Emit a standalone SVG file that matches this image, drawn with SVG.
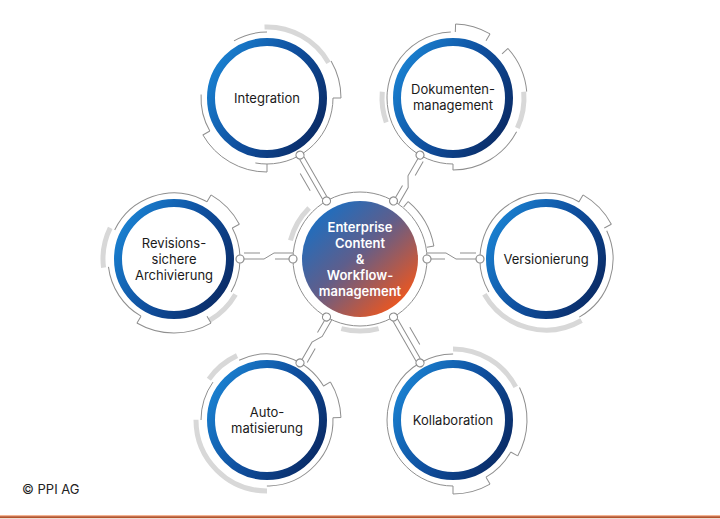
<svg xmlns="http://www.w3.org/2000/svg" width="720" height="519" viewBox="0 0 720 519">
<defs>
<linearGradient id="blue" x1="0" y1="0.2" x2="1" y2="0.8">
<stop offset="0" stop-color="#1a82d2"/>
<stop offset="0.5" stop-color="#0f4f9e"/>
<stop offset="1" stop-color="#0a2a64"/>
</linearGradient>
<linearGradient id="core" x1="0.12" y1="0.1" x2="0.88" y2="0.9">
<stop offset="0" stop-color="#1b6fc2"/>
<stop offset="0.45" stop-color="#5e5e8c"/>
<stop offset="1" stop-color="#f3561a"/>
</linearGradient>
<style>
.thin{fill:none;stroke:#8f8f8f;stroke-width:1}
.thick{fill:none;stroke:#d8d8d8;stroke-width:5}
.ring{fill:#fff;stroke:url(#blue);stroke-width:8}
.lbl{font-family:Inter,"Open Sans","Liberation Sans",sans-serif;font-size:13px;fill:#1a1a1a;text-anchor:middle}
.ctr{font-family:Inter,"Open Sans","Liberation Sans",sans-serif;font-size:13px;font-weight:600;fill:#fff;text-anchor:middle}
.conn path{fill:none;stroke:#8f8f8f;stroke-width:1}
.conn circle{fill:#fff;stroke:#8f8f8f;stroke-width:1.2}
</style>
</defs>
<rect width="720" height="519" fill="#fff"/>

<g id="center" transform="translate(360,259)">
<circle class="thin" r="67"/>
<circle class="thick" r="72" style="stroke-dasharray:37.7 1000" transform="rotate(-165)"/>
<circle class="thick" r="72" style="stroke-dasharray:37.7 1000" transform="rotate(75)"/>
<circle class="thin" r="75" style="stroke-dasharray:52.4 1000" transform="rotate(-50)"/>
<path class="thin" d="M68 0H75" transform="rotate(-50)"/>
<path class="thin" d="M68 0H75" transform="rotate(-10)"/>
<circle r="58" fill="url(#core)"/>
<text class="ctr" y="-27">Enterprise</text>
<text class="ctr" y="-11">Content</text>
<text class="ctr" y="5">&amp;</text>
<text class="ctr" y="21">Workflow-</text>
<text class="ctr" y="37">management</text>
</g>

<g id="integration" transform="translate(267,98)">
<circle class="thick" r="71" style="stroke-dasharray:76.8 1000" transform="rotate(-92)"/>
<circle class="thin" r="66" style="stroke-dasharray:34.6 1000" transform="rotate(-120)"/>
<circle class="thin" r="66" style="stroke-dasharray:38 1000" transform="rotate(150)"/>
<circle class="thin" r="74" style="stroke-dasharray:38.7 1000" transform="rotate(-30)"/>
<path class="thin" d="M66 0H74"/>
<circle class="thin" r="66" style="stroke-dasharray:115.2 1000"/>
<circle class="thin" r="74" style="stroke-dasharray:77.5 1000" transform="rotate(90)"/>
<path class="thin" d="M66 0H74" transform="rotate(90)"/>
<path class="thin" d="M66 0H74" transform="rotate(150)"/>
<circle class="ring" r="56"/>
<text class="lbl" y="5">Integration</text>
</g>

<g id="dokumentenmanagement" transform="translate(453,98)">
<circle class="thin" r="66" style="stroke-dasharray:66.8 1000" transform="rotate(-150)"/>
<circle class="thin" r="74" style="stroke-dasharray:36.2 1000" transform="rotate(-88)"/>
<path class="thin" d="M66 0H74" transform="rotate(-88)"/>
<path class="thin" d="M66 0H74" transform="rotate(-60)"/>
<circle class="thin" r="74" style="stroke-dasharray:47.8 1000" transform="rotate(-42)"/>
<path class="thin" d="M66 0H74" transform="rotate(-42)"/>
<circle class="thick" r="71" style="stroke-dasharray:37.2 1000" transform="rotate(-5)"/>
<circle class="thin" r="72" style="stroke-dasharray:77.9 1000" transform="rotate(28)"/>
<path class="thin" d="M66 0H72" transform="rotate(90)"/>
<circle class="thin" r="66" style="stroke-dasharray:109.4 1000" transform="rotate(90)"/>
<circle class="thick" r="71" style="stroke-dasharray:31 1000" transform="rotate(160)"/>
<circle class="thin" r="66" style="stroke-dasharray:28.8 1000" transform="rotate(185)"/>
<circle class="ring" r="56"/>
<text class="lbl" y="-4">Dokumenten-</text>
<text class="lbl" y="12">management</text>
</g>

<g id="versionierung" transform="translate(546,259)">
<circle class="thin" r="66" style="stroke-dasharray:172.8 1000" transform="rotate(150)"/>
<circle class="thin" r="74" style="stroke-dasharray:41.3 1000" transform="rotate(-60)"/>
<path class="thin" d="M66 0H74" transform="rotate(-60)"/>
<path class="thin" d="M66 0H74" transform="rotate(-28)"/>
<circle class="thin" r="67" style="stroke-dasharray:99.4 1000" transform="rotate(-25)"/>
<circle class="thick" r="71" style="stroke-dasharray:111.5 1000" transform="rotate(60)"/>
<circle class="ring" r="56"/>
<text class="lbl" y="5">Versionierung</text>
</g>

<g id="revisionssichere-archivierung" transform="translate(174,259)">
<circle class="thick" r="71" style="stroke-dasharray:40.9 1000" transform="rotate(173)"/>
<circle class="thin" r="66" style="stroke-dasharray:108.3 1000" transform="rotate(206)"/>
<circle class="thin" r="74" style="stroke-dasharray:41.3 1000" transform="rotate(-60)"/>
<path class="thin" d="M66 0H74" transform="rotate(-60)"/>
<path class="thin" d="M66 0H74" transform="rotate(-28)"/>
<circle class="thin" r="66" style="stroke-dasharray:66.8 1000" transform="rotate(-28)"/>
<circle class="thick" r="71" style="stroke-dasharray:37.2 1000" transform="rotate(30)"/>
<circle class="thin" r="74" style="stroke-dasharray:77.5 1000" transform="rotate(60)"/>
<path class="thin" d="M66 0H74" transform="rotate(60)"/>
<path class="thin" d="M66 0H74" transform="rotate(120)"/>
<circle class="thin" r="66" style="stroke-dasharray:61.1 1000" transform="rotate(120)"/>
<circle class="ring" r="56"/>
<text class="lbl" y="-11">Revisions-</text>
<text class="lbl" y="5">sichere</text>
<text class="lbl" y="21">Archivierung</text>
</g>

<g id="automatisierung" transform="translate(267,420)">
<circle class="thick" r="71" style="stroke-dasharray:37.2 1000" transform="rotate(-145)"/>
<circle class="thin" r="66" style="stroke-dasharray:96.8 1000" transform="rotate(-115)"/>
<circle class="thin" r="74" style="stroke-dasharray:37.5 1000" transform="rotate(-31)"/>
<path class="thin" d="M66 0H74" transform="rotate(-31)"/>
<path class="thin" d="M66 0H74" transform="rotate(-2)"/>
<circle class="thin" r="66" style="stroke-dasharray:106 1000" transform="rotate(-2)"/>
<circle class="thick" r="71" style="stroke-dasharray:111.5 1000" transform="rotate(90)"/>
<circle class="thin" r="66" style="stroke-dasharray:40.3 1000" transform="rotate(180)"/>
<circle class="ring" r="56"/>
<text class="lbl" y="-3">Auto-</text>
<text class="lbl" y="13">matisierung</text>
</g>

<g id="kollaboration" transform="translate(453,420)">
<circle class="thin" r="66" style="stroke-dasharray:69.1 1000" transform="rotate(-150)"/>
<circle class="thick" r="71" style="stroke-dasharray:76.8 1000" transform="rotate(-90)"/>
<circle class="thin" r="74" style="stroke-dasharray:71 1000" transform="rotate(-26)"/>
<path class="thin" d="M66 0H74" transform="rotate(29)"/>
<circle class="thin" r="66" style="stroke-dasharray:35.7 1000" transform="rotate(29)"/>
<circle class="thin" r="74" style="stroke-dasharray:38.7 1000" transform="rotate(60)"/>
<path class="thin" d="M66 0H74" transform="rotate(60)"/>
<path class="thin" d="M66 0H74" transform="rotate(90)"/>
<circle class="thin" r="66" style="stroke-dasharray:138.2 1000" transform="rotate(90)"/>
<circle class="ring" r="56"/>
<text class="lbl" y="5">Kollaboration</text>
</g>

<g id="connectors" class="conn" transform="translate(360,259)">
<g transform="rotate(180)"><path d="M71 0H85M67 6H86L96 0H116M100 6H116"/><circle cx="67" r="4"/><circle cx="120" r="4"/></g>
<g transform="rotate(0) scale(1,-1)"><path d="M71 0H85M67 6H86L96 0H116M100 6H116"/><circle cx="67" r="4"/><circle cx="120" r="4"/></g>
<g transform="rotate(-60)"><path d="M71 0H85M67 6H86L96 0H116M100 6H116"/><circle cx="67" r="4"/><circle cx="120" r="4"/></g>
<g transform="rotate(120) scale(1,-1)"><path d="M71 0H85M67 6H86L96 0H116M100 6H116"/><circle cx="67" r="4"/><circle cx="120" r="4"/></g>
<g transform="rotate(-120)"><path d="M70.5 -2.5H116.5M70.5 2.5H116.5M84 -9H104"/><circle cx="67" r="4"/><circle cx="120" r="4"/></g>
<g transform="rotate(60)"><path d="M70.5 -2.5H116.5M70.5 2.5H116.5M84 -9H104"/><circle cx="67" r="4"/><circle cx="120" r="4"/></g>
</g>

<text x="22" y="494" style="font-family:Inter,'Open Sans','Liberation Sans',sans-serif;font-size:13px;fill:#222">© PPI AG</text>
<rect x="0" y="515" width="720" height="1.2" fill="#f4b493"/>
<rect x="0" y="516.2" width="720" height="2" fill="#b4542c"/>
</svg>
